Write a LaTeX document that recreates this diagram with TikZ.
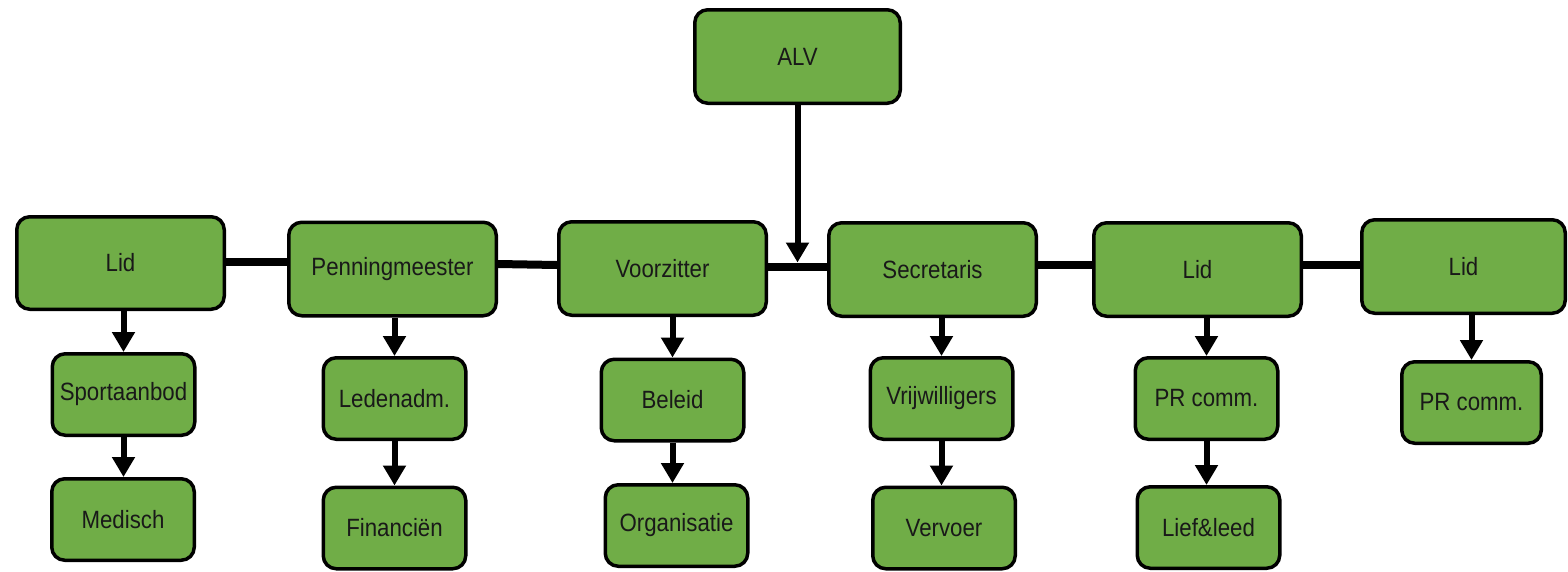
\documentclass[tikz,border=0pt]{standalone}
\usepackage{fontspec}
\setmainfont{Liberation Sans}
\newfontfamily\boxfont[FakeStretch=0.89]{Liberation Sans}
\usetikzlibrary{arrows.meta,calc}
\definecolor{boxgreen}{HTML}{70AD47}
\begin{document}
\begin{tikzpicture}[x=1pt,y=-1pt,
  box/.style={draw=black, fill=boxgreen, line width=3.5pt, rounded corners=13pt, inner sep=0pt,
              text=black!90, font=\boxfont\fontsize{25}{30}\selectfont},
  big/.style={box, minimum width=207.5pt, minimum height=93.5pt},
  small/.style={box, minimum width=142.5pt, minimum height=81.5pt},
  link/.style={line width=8pt},
  arr/.style={line width=6pt, -{Triangle[width=22pt,length=20pt]}}]
\useasboundingbox (0,0) rectangle (1568,571);

% top
\node[big, minimum width=205.5pt] (alv) at (797.5,56.5) {ALV};

% board row
\node[big, minimum height=92.5pt] (lid1) at (120.5,263) {Lid};
\node[big] (penn) at (392.5,269) {Penningmeester};
\node[big] (voorz) at (662.5,268.5) {Voorzitter};
\node[big] (secr) at (932.5,269.5) {Secretaris};
\node[big] (lid2) at (1197.5,269.5) {Lid};
\node[big, minimum width=203.5pt] (lid3) at (1463.5,266.5) {Lid};

% second row
\node[small] (sport) at (123.5,394.5) {Sportaanbod};
\node[small] (leden) at (394.5,398.5) {Ledenadm.};
\node[small] (beleid) at (672.5,400) {Beleid};
\node[small] (vrij) at (941.5,398.5) {Vrijwilligers};
\node[small] (pr1) at (1206.5,398.5) {PR comm.};
\node[small, minimum width=139.5pt] (pr2) at (1471.5,402.5) {PR comm.};

% third row
\node[small] (med) at (123,519.5) {Medisch};
\node[small] (fin) at (394.5,528) {Financiën};
\node[small] (org) at (676.5,525.5) {Organisatie};
\node[small] (verv) at (944,528) {Vervoer};
\node[small] (lief) at (1208.5,527.5) {Lief\&leed};

% horizontal links
\draw[link] ([yshift=1pt]lid1.east) -- ([yshift=7pt]penn.west);
\draw[link] ([yshift=5pt]penn.east) -- ([yshift=3.5pt]voorz.west);
\draw[link] ([yshift=2pt]voorz.east) -- ([yshift=3pt]secr.west);
\draw[link] ([yshift=5pt]secr.east) -- ([yshift=5pt]lid2.west);
\draw[link] ([yshift=4.5pt]lid2.east) -- ([yshift=1.5pt]lid3.west);

% ALV arrow
\coordinate (j) at ($([yshift=2pt]voorz.east)!0.5!([yshift=3pt]secr.west)$);
\draw[arr, shorten >=4pt] (alv.south) -- (alv.south |- j);

% vertical arrows
\draw[arr] (lid1.south -| sport.north) -- (sport.north);
\draw[arr] (sport.south) -- (med.north -| sport.south);
\draw[arr] (penn.south -| leden.north) -- (leden.north);
\draw[arr] (leden.south) -- (fin.north -| leden.south);
\draw[arr] (voorz.south -| beleid.north) -- (beleid.north);
\draw[arr] (beleid.south) -- (org.north -| beleid.south);
\draw[arr] (secr.south -| vrij.north) -- (vrij.north);
\draw[arr] (vrij.south) -- (verv.north -| vrij.south);
\draw[arr] (lid2.south -| pr1.north) -- (pr1.north);
\draw[arr] (pr1.south) -- (lief.north -| pr1.south);
\draw[arr] (lid3.south -| pr2.north) -- (pr2.north);
\end{tikzpicture}
\end{document}
